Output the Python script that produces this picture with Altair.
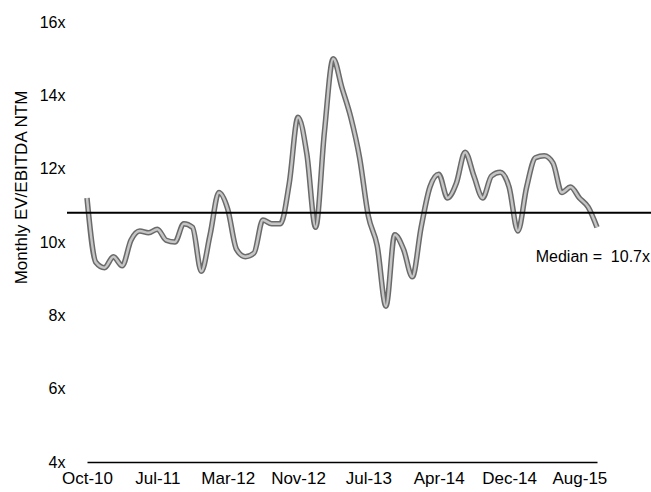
import altair as alt
import pandas as pd

# ---- data ----
values = [11.2, 9.45, 9.3, 9.6, 9.35, 10.05, 10.3, 10.25, 10.35, 10.05,
          10.0, 10.5, 10.4, 9.2, 10.2, 11.35, 10.9, 9.8, 9.6, 9.7,
          10.6, 10.5, 10.5, 11.6, 13.4, 12.4, 10.4, 13.0, 15.0, 14.2,
          13.4, 12.3, 10.7, 9.9, 8.25, 10.2, 9.8, 9.05, 10.4, 11.5,
          11.85, 11.2, 11.6, 12.45, 11.8, 11.2, 11.8, 11.9, 11.5, 10.3,
          11.5, 12.3, 12.35, 12.15, 11.35, 11.5, 11.2, 10.95, 10.4]
tick_labels = ["Oct-10", "Jul-11", "Mar-12", "Nov-12", "Jul-13", "Apr-14", "Dec-14", "Aug-15"]
tick_positions = [0, 8, 16, 24, 32, 40, 48, 56]
y_ticks = [4, 6, 8, 10, 12, 14, 16]
median_value = 10.8
median_text = "Median =\u00a0\u00a010.7x"

df = pd.DataFrame({"i": list(range(len(values))), "v": values})
med = pd.DataFrame({"m": [median_value], "t": [median_text]})

FONT = "Liberation Sans"
label_arr = "[" + ",".join("'%s'" % t for t in tick_labels) + "]"

x_enc = alt.X("i:Q",
              scale=alt.Scale(domain=[0, len(values) - 1], nice=False, zero=False),
              axis=alt.Axis(values=tick_positions, labelExpr=label_arr + "[datum.value/8]",
                            title=None, grid=False, ticks=False, domain=True,
                            domainColor="black", domainWidth=1.5, labelFontSize=17,
                            labelFont=FONT, labelColor="black", labelPadding=8,
                            labelFlush=False))
y_enc = alt.Y("v:Q",
              scale=alt.Scale(domain=[4, 16], nice=False, zero=False),
              axis=alt.Axis(values=y_ticks, labelExpr="datum.value + 'x'",
                            title="Monthly EV/EBITDA NTM", titleFont=FONT,
                            titleFontSize=17, titleFontWeight="normal", titleColor="black",
                            titleX=-66, titleY=165, titleAngle=-90, titleAlign="center",
                            titleBaseline="middle",
                            grid=False, ticks=False, domain=False, labelFontSize=16,
                            labelFont=FONT, labelColor="black", labelPadding=22))

outer = alt.Chart(df).mark_line(color="#6a6a6a", strokeWidth=5.5, interpolate="monotone").encode(x=x_enc, y=y_enc)
inner = alt.Chart(df).mark_line(color="#c6c6c6", strokeWidth=2.5, interpolate="monotone").encode(x="i:Q", y="v:Q")

rule = alt.Chart(med).mark_rule(color="black", strokeWidth=2).encode(
    y="m:Q", x=alt.value(-20), x2=alt.value(564))
label = alt.Chart(med).mark_text(align="right", baseline="middle", font=FONT, fontSize=16,
                                 color="black", dy=44).encode(
    y="m:Q", x=alt.value(563), text="t:N")

chart = alt.layer(outer, inner, rule, label).properties(
    width=510, height=440,
    autosize=alt.AutoSizeParams(type="none"),
    padding={"left": 87, "top": 22, "right": 54, "bottom": 30},
    background="white",
).configure_view(stroke=None)

chart.save("out.html", embed_options={"renderer": "svg", "actions": False})
